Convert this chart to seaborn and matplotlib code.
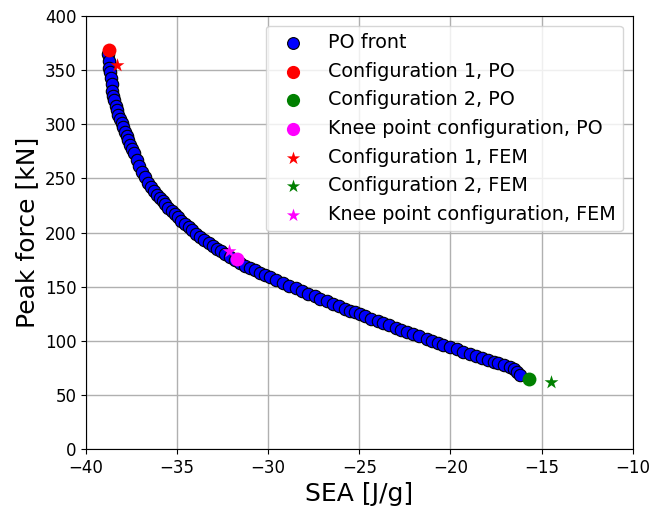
import matplotlib
matplotlib.use("Agg")
import matplotlib.pyplot as plt
import seaborn as sns
import pandas as pd

# Pareto-optimal (PO) front: specific energy absorption vs. peak force
po_sea = [
    -38.78, -38.74, -38.72, -38.68, -38.65, -38.60, -38.56, -38.50, -38.46, -38.38,
    -38.32, -38.22, -38.13, -38.05, -37.95, -37.86, -37.77, -37.68, -37.59, -37.48,
    -37.37, -37.22, -37.07, -36.92, -36.76, -36.60, -36.44, -36.28, -36.12, -35.96,
    -35.80, -35.64, -35.48, -35.30, -35.12, -34.94, -34.76, -34.56, -34.36, -34.16,
    -33.96, -33.74, -33.50, -33.27, -33.05, -32.82, -32.60, -32.36, -32.10, -31.85,
    -31.55, -31.25, -31.00, -30.70, -30.45, -30.15, -29.90, -29.55, -29.17, -28.85,
    -28.50, -28.16, -27.80, -27.45, -27.16, -26.80, -26.43, -26.10, -25.79, -25.50,
    -25.24, -24.95, -24.69, -24.35, -24.00, -23.68, -23.35, -23.00, -22.70, -22.40,
    -22.05, -21.70, -21.30, -21.00, -20.70, -20.39, -20.00, -19.65, -19.30, -18.92,
    -18.60, -18.28, -17.95, -17.60, -17.37, -17.05, -16.73, -16.50, -16.35, -16.20,
]
po_force = [
    365.0, 358.0, 352.0, 348.0, 343.0, 337.0, 331.0, 326.0, 322.0, 317.0,
    313.0, 309.0, 305.0, 301.0, 297.0, 293.0, 289.0, 285.0, 281.0, 277.0,
    273.0, 267.0, 261.0, 256.0, 251.0, 246.0, 242.0, 238.0, 235.0, 232.0,
    229.0, 226.0, 223.0, 220.0, 217.0, 214.0, 211.0, 208.0, 205.0, 202.0,
    199.0, 196.0, 193.0, 190.0, 187.5, 185.0, 182.5, 180.0, 177.5, 175.0,
    172.0, 169.5, 167.5, 165.0, 163.0, 160.5, 158.5, 156.0, 153.5, 151.0,
    148.5, 146.0, 143.5, 141.0, 139.0, 136.5, 134.0, 131.8, 129.8, 127.8,
    126.2, 124.3, 122.6, 120.5, 118.2, 116.2, 114.3, 112.2, 110.3, 108.4,
    106.3, 104.2, 102.0, 100.2, 98.2, 96.0, 94.0, 92.0, 90.0, 88.0,
    86.3, 84.5, 82.6, 80.5, 79.0, 77.3, 75.8, 73.5, 71.0, 68.5,
]

# Selected configurations: PO prediction vs. FEM result
config_labels = ["Configuration 1", "Configuration 2", "Knee point configuration"]
config_colors = ["red", "green", "magenta"]
po_sel_sea = [-38.74, -15.69, -31.73]
po_sel_force = [369.0, 64.6, 175.5]
fem_sel_sea = [-38.28, -14.50, -32.13]
fem_sel_force = [355.0, 62.0, 182.5]

x_ticks = [-40, -35, -30, -25, -20, -15, -10]
y_ticks = [0, 50, 100, 150, 200, 250, 300, 350, 400]

fig = plt.figure(figsize=(6.5, 5.11), dpi=100)
ax = fig.add_axes([0.1323, 0.1213, 0.8411, 0.8474])

front = pd.DataFrame({"SEA": po_sea, "Force": po_force})
sns.scatterplot(data=front, x="SEA", y="Force", ax=ax, color="blue",
                edgecolor="black", linewidth=0.8, s=80, label="PO front",
                zorder=3)

for lab, col, sx, sy in zip(config_labels, config_colors, po_sel_sea, po_sel_force):
    sns.scatterplot(x=[sx], y=[sy], ax=ax, color=col, edgecolor=col,
                    linewidth=0, s=100, marker="o", label=f"{lab}, PO", zorder=4)

for lab, col, sx, sy in zip(config_labels, config_colors, fem_sel_sea, fem_sel_force):
    sns.scatterplot(x=[sx], y=[sy], ax=ax, color=col, edgecolor=col,
                    linewidth=0, s=110, marker="*", label=f"{lab}, FEM", zorder=4)

ax.set_xlim(-40, -10)
ax.set_ylim(0, 400)
ax.set_xticks(x_ticks)
ax.set_yticks(y_ticks)
ax.tick_params(labelsize=12)
ax.grid(True, color="#b0b0b0", linewidth=1.0)
ax.set_axisbelow(True)
ax.set_xlabel("SEA [J/g]", fontsize=18)
ax.set_ylabel("Peak force [kN]", fontsize=18)

ax.legend(loc="upper right", fontsize=13.8, markerscale=0.95,
          borderpad=0.4, labelspacing=0.5, handletextpad=0.8)

fig.savefig("out.png", dpi=100)
